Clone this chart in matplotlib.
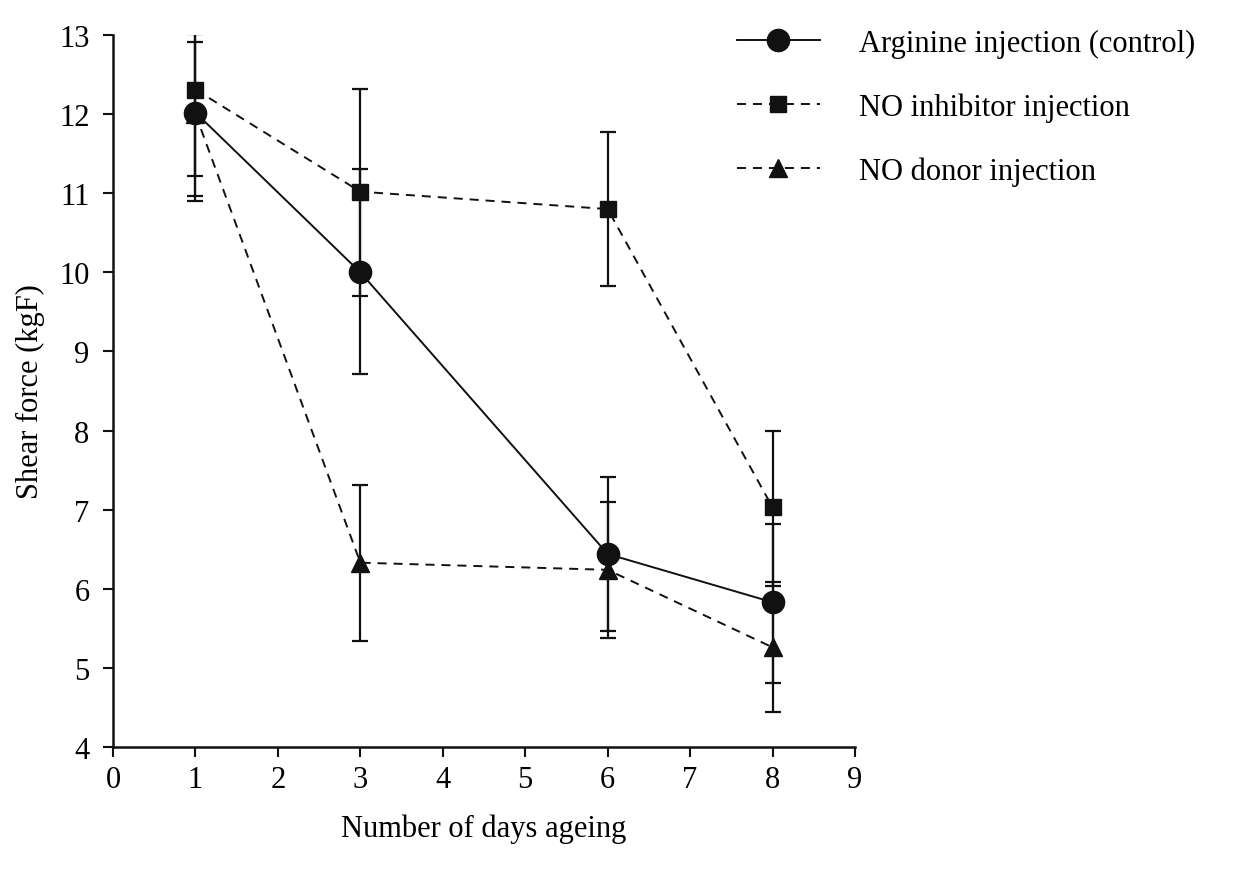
# Shear force vs days of ageing, three injection treatments

import matplotlib
matplotlib.use("Agg")
import matplotlib.pyplot as plt

days = [1, 3, 6, 8]

# Arginine injection (control)
arg_mean = [12.02, 10.0, 6.44, 5.83]
arg_low = [1.06, 1.28, 0.97, 1.02]
arg_high = [0.99, 1.31, 0.97, 0.99]

# NO inhibitor injection
inh_mean = [12.31, 11.02, 10.80, 7.03]
inh_low = [1.09, 1.32, 0.97, 1.00]
inh_high = [0.86, 1.30, 0.97, 0.96]

# NO donor injection
don_mean = [12.0, 6.33, 6.24, 5.26]
don_low = [1.10, 0.99, 0.86, 0.82]
don_high = [0.91, 0.98, 0.86, 0.82]

x_ticks = [0, 1, 2, 3, 4, 5, 6, 7, 8, 9]
y_ticks = [4, 5, 6, 7, 8, 9, 10, 11, 12, 13]

plt.rcParams['font.family'] = ['Liberation Serif', 'DejaVu Serif']
plt.rcParams['lines.scale_dashes'] = False

fig = plt.figure(figsize=(12.42, 8.70), dpi=100)
ax = fig.add_axes([0.091, 0.1402, 0.5974, 0.8184])

dash = (0, (6.5, 5))

# error bars first, then the lines + markers on top
for mean, lo, hi in [(arg_mean, arg_low, arg_high),
                     (inh_mean, inh_low, inh_high),
                     (don_mean, don_low, don_high)]:
    ax.errorbar(days, mean, yerr=[lo, hi], fmt='none', ecolor='#111111',
                elinewidth=1.6, capsize=6, capthick=1.6, zorder=2)

ax.plot(days, arg_mean, color='#111111', lw=1.4, marker='o', markersize=16,
        label='Arginine injection (control)', zorder=3)
ax.plot(days, inh_mean, color='#111111', lw=1.4, linestyle=dash, marker='s',
        markersize=12, label='NO inhibitor injection', zorder=3)
ax.plot(days, don_mean, color='#111111', lw=1.4, linestyle=dash, marker='^',
        markersize=13, label='NO donor injection', zorder=3)

ax.set_xlim(0, 9)
ax.set_ylim(4, 13)
ax.set_xticks(x_ticks)
ax.set_yticks(y_ticks)
ax.tick_params(axis='both', direction='out', length=7, width=1.5,
               labelsize=22, color='#111111')
ax.tick_params(axis='x', pad=6)
ax.tick_params(axis='y', pad=10)

for side in ['top', 'right']:
    ax.spines[side].set_visible(False)
for side in ['left', 'bottom']:
    ax.spines[side].set_linewidth(1.8)
    ax.spines[side].set_color('#111111')

ax.set_xlabel('Number of days ageing', fontsize=22, labelpad=14)
ax.set_ylabel('Shear force (kgF)', fontsize=22, labelpad=10)

fig.legend(loc='upper left', bbox_to_anchor=(737 / 1242, 1 - 30 / 870),
           frameon=False, fontsize=22, handlelength=2.7, handletextpad=1.3,
           labelspacing=1.12, borderpad=0, borderaxespad=0)

fig.savefig('out.png', dpi=100)
